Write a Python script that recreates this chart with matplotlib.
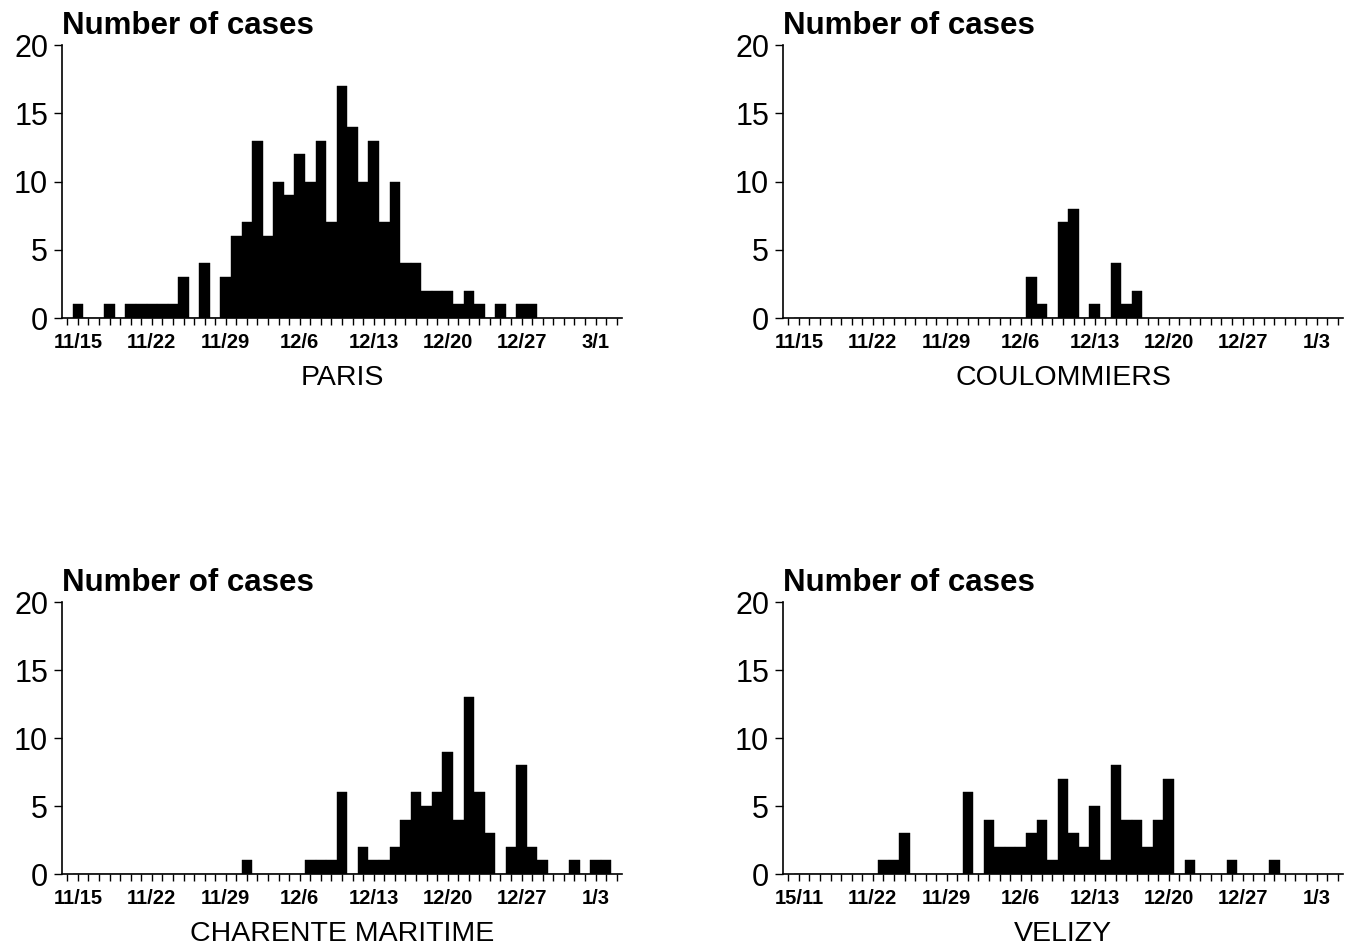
import matplotlib
matplotlib.use("Agg")
import matplotlib.pyplot as plt
import numpy as np

plt.rcParams['font.family'] = ['Liberation Sans', 'DejaVu Sans']

# Daily case counts, day 0 = 11/15
paris = [1, 0, 0, 1, 0, 1, 1, 1, 1, 1, 3, 0, 4, 0, 3, 6, 7, 13, 6, 10, 9, 12,
         10, 13, 7, 17, 14, 10, 13, 7, 10, 4, 4, 2, 2, 2, 1, 2, 1, 0, 1, 0, 1, 1]
coulommiers = [0, 0, 0, 0, 0, 0, 0, 0, 0, 0, 0, 0, 0, 0, 0, 0, 0, 0, 0, 0, 0, 0,
               3, 1, 0, 7, 8, 0, 1, 0, 4, 1, 2]
charente = [0, 0, 0, 0, 0, 0, 0, 0, 0, 0, 0, 0, 0, 0, 0, 0, 1, 0, 0, 0, 0, 0,
            1, 1, 1, 6, 0, 2, 1, 1, 2, 4, 6, 5, 6, 9, 4, 13, 6, 3, 0, 2, 8, 2,
            1, 0, 0, 1, 0, 1, 1]
velizy = [0, 0, 0, 0, 0, 0, 0, 0, 1, 1, 3, 0, 0, 0, 0, 0, 6, 0, 4, 2, 2, 2,
          3, 4, 1, 7, 3, 2, 5, 1, 8, 4, 4, 2, 4, 7, 0, 1, 0, 0, 0, 1, 0, 0,
          0, 1]

labels_paris = ["11/15", "11/22", "11/29", "12/6", "12/13", "12/20", "12/27", "3/1"]
labels_std = ["11/15", "11/22", "11/29", "12/6", "12/13", "12/20", "12/27", "1/3"]
labels_velizy = ["15/11", "11/22", "11/29", "12/6", "12/13", "12/20", "12/27", "1/3"]

names = ["PARIS", "COULOMMIERS", "CHARENTE MARITIME", "VELIZY"]
yticks = [0, 5, 10, 15, 20]

W, H = 1351, 949
fig = plt.figure(figsize=(W / 100, H / 100), dpi=100)


def axes_px(x0, x1, ytop, ybot):
    return fig.add_axes([x0 / W, 1 - ybot / H, (x1 - x0) / W, (ybot - ytop) / H])


panels = [
    (axes_px(62, 622, 45, 318), paris, labels_paris, names[0]),
    (axes_px(783, 1343, 45, 318), coulommiers, labels_std, names[1]),
    (axes_px(62, 622, 602, 874), charente, labels_std, names[2]),
    (axes_px(783, 1343, 602, 874), velizy, labels_velizy, names[3]),
]

for ax, data, xlabels, name in panels:
    days = np.arange(len(data))
    ax.bar(days, data, width=1.0, color='black', edgecolor='black', linewidth=0.3)
    ax.set_xlim(-1.5, 51.5)
    ax.set_ylim(0, 20)
    ax.spines['top'].set_visible(False)
    ax.spines['right'].set_visible(False)
    ax.spines['left'].set_linewidth(1.2)
    ax.spines['bottom'].set_linewidth(1.2)
    ax.set_xticks(np.arange(-1, 52), minor=True)
    ax.set_xticks(np.arange(0, 50, 7))
    ax.set_xticklabels(xlabels, fontsize=14.5, fontweight='bold')
    ax.tick_params(axis='x', which='both', direction='out', length=5, width=1.0, pad=6)
    ax.set_yticks(yticks)
    ax.set_yticklabels([str(v) for v in yticks], fontsize=22)
    ax.tick_params(axis='y', direction='out', length=6, width=1.0, pad=4)
    ax.text(0.0, 1.0 + 11 / 273, "Number of cases", transform=ax.transAxes,
            fontsize=22.5, fontweight='bold', ha='left', va='baseline')
    ax.text(0.5, -67 / 273, name, transform=ax.transAxes, fontsize=20.5,
            ha='center', va='baseline')

fig.savefig("out.png", dpi=100, facecolor='white')
